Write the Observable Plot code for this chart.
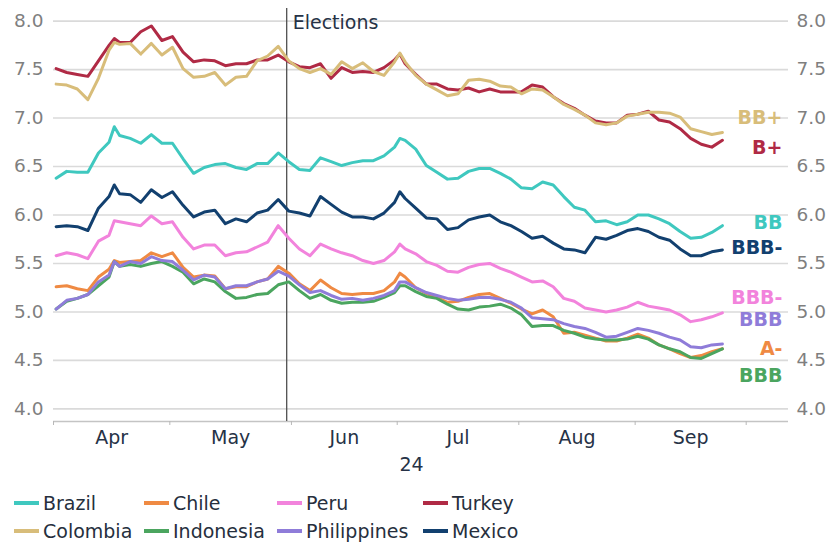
<!DOCTYPE html>
<html><head><meta charset="utf-8">
<script src="https://cdn.jsdelivr.net/npm/d3@7"></script>
<script src="https://cdn.jsdelivr.net/npm/@observablehq/plot@0.6"></script>
<style>
body{margin:0;background:#fff;font-family:"DejaVu Sans",sans-serif;}
#chart{width:829px;}
.legend{display:grid;grid-template-columns:130px 133px 146px auto;padding-left:14px;margin-top:9px;}
.item{display:flex;align-items:center;height:28px;font-size:19px;color:#262f3d;white-space:nowrap;}
.sw{width:25px;height:4px;margin-right:4px;flex:none;}
</style></head><body><div id="chart"></div>
<script>
// ---- data ----
const countries = ["Brazil","Chile","Peru","Turkey","Colombia","Indonesia","Philippines","Mexico"];
const ratings   = ["BB","A-","BBB-","B+","BB+","BBB","BBB","BBB-"];
const months = ["Apr","May","Jun","Jul","Aug","Sep"];
const monthBusinessDays = [22,23,20,23,22,21];
const yearLabel = "24";
const yTicks = [4.0,4.5,5.0,5.5,6.0,6.5,7.0,7.5,8.0];
const electionDay = 44.1; // business-day index of the elections marker
// business-day index (from 1 Apr 2024) of each observation
const days = [0,2,4,6,8,10,11,12,14,16,18,20,22,24,26,28,30,32,34,36,38,40,42,44,46,48,50,52,54,56,58,60,62,64,65,66,68,70,72,74,76,78,80,82,84,86,88,90,92,94,96,98,100,102,104,106,108,110,112,114,116,118,120,122,124,126];
const brazil = [6.38,6.45,6.44,6.44,6.64,6.75,6.91,6.82,6.79,6.74,6.83,6.74,6.74,6.58,6.43,6.49,6.52,6.53,6.49,6.47,6.53,6.53,6.64,6.55,6.47,6.46,6.59,6.55,6.51,6.54,6.56,6.56,6.61,6.70,6.79,6.77,6.68,6.51,6.44,6.37,6.38,6.45,6.48,6.48,6.43,6.37,6.28,6.27,6.34,6.31,6.19,6.08,6.05,5.93,5.94,5.90,5.93,6.00,6.00,5.96,5.91,5.83,5.76,5.77,5.82,5.89];
const chile = [5.26,5.27,5.24,5.22,5.36,5.44,5.53,5.51,5.52,5.53,5.61,5.57,5.61,5.46,5.36,5.38,5.37,5.24,5.26,5.26,5.31,5.34,5.47,5.40,5.29,5.22,5.33,5.25,5.19,5.18,5.19,5.19,5.22,5.31,5.40,5.36,5.25,5.19,5.15,5.10,5.11,5.15,5.18,5.19,5.14,5.09,5.03,4.98,5.02,4.95,4.78,4.79,4.76,4.73,4.70,4.70,4.73,4.77,4.73,4.66,4.62,4.57,4.53,4.55,4.59,4.62];
const peru = [5.58,5.61,5.59,5.55,5.73,5.79,5.94,5.93,5.91,5.89,5.99,5.91,5.93,5.77,5.65,5.69,5.69,5.58,5.61,5.62,5.67,5.72,5.89,5.76,5.65,5.58,5.70,5.65,5.61,5.58,5.53,5.50,5.53,5.62,5.70,5.65,5.60,5.52,5.48,5.42,5.41,5.46,5.49,5.50,5.45,5.41,5.36,5.31,5.32,5.26,5.14,5.11,5.04,5.02,5.00,5.02,5.05,5.10,5.06,5.04,5.02,4.97,4.90,4.92,4.95,4.99];
const turkey = [7.51,7.47,7.45,7.43,7.59,7.75,7.82,7.78,7.78,7.89,7.95,7.80,7.84,7.68,7.58,7.60,7.59,7.54,7.56,7.56,7.60,7.60,7.65,7.58,7.53,7.52,7.56,7.41,7.52,7.47,7.48,7.47,7.52,7.60,7.66,7.56,7.45,7.35,7.35,7.30,7.29,7.31,7.27,7.30,7.27,7.27,7.27,7.34,7.32,7.22,7.15,7.10,7.03,6.97,6.95,6.95,7.03,7.04,7.07,6.98,6.96,6.89,6.79,6.73,6.70,6.77];
const colombia = [7.35,7.34,7.30,7.19,7.41,7.70,7.78,7.76,7.77,7.66,7.77,7.65,7.73,7.51,7.42,7.43,7.47,7.34,7.42,7.43,7.59,7.64,7.74,7.59,7.51,7.47,7.51,7.45,7.58,7.51,7.57,7.48,7.44,7.58,7.67,7.58,7.44,7.35,7.29,7.23,7.25,7.39,7.40,7.38,7.33,7.32,7.25,7.30,7.29,7.22,7.14,7.09,7.03,6.95,6.93,6.95,7.02,7.04,7.06,7.06,7.05,7.01,6.89,6.86,6.83,6.85];
const indonesia = [5.03,5.11,5.14,5.18,5.27,5.36,5.52,5.47,5.49,5.47,5.50,5.52,5.47,5.41,5.29,5.34,5.31,5.21,5.14,5.15,5.18,5.19,5.28,5.31,5.22,5.14,5.18,5.12,5.09,5.10,5.10,5.11,5.15,5.20,5.27,5.27,5.21,5.16,5.14,5.08,5.03,5.02,5.05,5.06,5.08,5.04,4.97,4.85,4.86,4.86,4.81,4.78,4.74,4.72,4.71,4.71,4.72,4.75,4.72,4.66,4.62,4.59,4.53,4.52,4.57,4.62];
const philippines = [5.03,5.12,5.14,5.18,5.31,5.38,5.52,5.47,5.52,5.50,5.57,5.53,5.52,5.43,5.33,5.38,5.36,5.24,5.27,5.27,5.31,5.34,5.42,5.37,5.28,5.20,5.22,5.17,5.13,5.14,5.12,5.14,5.17,5.22,5.31,5.31,5.25,5.20,5.17,5.14,5.12,5.13,5.15,5.15,5.13,5.10,5.04,4.94,4.93,4.92,4.88,4.85,4.83,4.79,4.74,4.75,4.79,4.83,4.81,4.78,4.74,4.71,4.64,4.63,4.66,4.67];
const mexico = [5.88,5.89,5.88,5.84,6.07,6.19,6.31,6.22,6.21,6.13,6.26,6.18,6.24,6.10,5.98,6.03,6.05,5.91,5.96,5.93,6.02,6.05,6.16,6.04,6.02,5.99,6.19,6.11,6.03,5.98,5.98,5.96,6.02,6.13,6.24,6.17,6.07,5.97,5.96,5.85,5.87,5.95,5.98,6.00,5.93,5.89,5.83,5.76,5.78,5.71,5.65,5.64,5.61,5.77,5.75,5.79,5.84,5.86,5.83,5.77,5.74,5.65,5.58,5.58,5.62,5.64];

// ---- styles ----
const seriesValues = [brazil, chile, peru, turkey, colombia, indonesia, philippines, mexico];
const colors = {Brazil:"#3fc8bf",Chile:"#ef8a43",Peru:"#f283dc",Turkey:"#b02a45",Colombia:"#d8bd7a",Indonesia:"#4ba55f",Philippines:"#8f7cd9",Mexico:"#12406f"};
const labelNudge = {Colombia:-15,Turkey:8,Brazil:-3,Mexico:-2,Peru:-15,Philippines:-24,Chile:0,Indonesia:27};
const textColor = "#263246";

const rows = [];
countries.forEach((c, k) => days.forEach((d, j) => rows.push({country: c, t: d + 0.5, v: seriesValues[k][j]})));

const bounds = [0];
monthBusinessDays.forEach(n => bounds.push(bounds[bounds.length - 1] + n));
const mids = months.map((m, i) => (bounds[i] + bounds[i + 1]) / 2);

const lastPoints = countries.map((c, k) => ({country: c, rating: ratings[k], v: seriesValues[k][seriesValues[k].length - 1]}));

const yDomain = [3.87, 8.13];
const plot = Plot.plot({
  width: 829, height: 480,
  marginLeft: 53, marginRight: 41, marginTop: 8, marginBottom: 59,
  style: {fontFamily: "DejaVu Sans, sans-serif", fontSize: "19px", background: "white", overflow: "visible"},
  x: {domain: [0, 139], label: null},
  y: {domain: yDomain, label: null},
  color: {domain: countries, range: countries.map(c => colors[c])},
  marks: [
    Plot.ruleY(yTicks, {stroke: "#dadada", strokeWidth: 1.6}),
    Plot.ruleY([yDomain[0]], {stroke: "#c4c4c4", strokeWidth: 1.5}),
    Plot.axisX(bounds, {tickSize: 4, tickFormat: () => "", color: "#b8b8b8", label: null}),
    Plot.axisX(mids, {tickSize: 0, tickPadding: 9, tickFormat: d => months[mids.indexOf(d)], color: textColor, fontSize: 19, label: null}),
    Plot.text([yearLabel], {x: () => 67.7, text: d => d, frameAnchor: "bottom", lineAnchor: "top", dy: 36, fill: textColor, fontSize: 19}),
    Plot.axisY(yTicks, {anchor: "left", tickSize: 0, tickPadding: 10, tickFormat: d3.format(".1f"), color: "#7f7f7f", fontSize: 18.5, label: null}),
    Plot.axisY(yTicks, {anchor: "right", tickSize: 0, tickPadding: 8, tickFormat: d3.format(".1f"), color: "#7f7f7f", fontSize: 18.5, label: null}),
    Plot.ruleX([electionDay], {stroke: "#505050", strokeWidth: 1.3}),
    Plot.text([electionDay], {x: d => d, text: () => "Elections", frameAnchor: "top", lineAnchor: "top", textAnchor: "start", dx: 6, dy: 7, fill: textColor, fontSize: 19}),
    Plot.line(rows, {x: "t", y: "v", z: "country", stroke: "country", strokeWidth: 3, strokeLinejoin: "round", strokeLinecap: "round"}),
    ...lastPoints.map(p => Plot.text([p], {y: "v", text: "rating", frameAnchor: "right", textAnchor: "end", dx: -6, dy: labelNudge[p.country], fill: colors[p.country], fontWeight: "bold", fontSize: 19}))
  ]
});
const chart = document.getElementById("chart");
chart.appendChild(plot);

const legend = document.createElement("div");
legend.className = "legend";
countries.forEach(c => {
  const item = document.createElement("div");
  item.className = "item";
  const sw = document.createElement("span");
  sw.className = "sw";
  sw.style.background = colors[c];
  const lab = document.createElement("span");
  lab.textContent = c;
  item.appendChild(sw); item.appendChild(lab);
  legend.appendChild(item);
});
chart.appendChild(legend);
</script></body></html>
